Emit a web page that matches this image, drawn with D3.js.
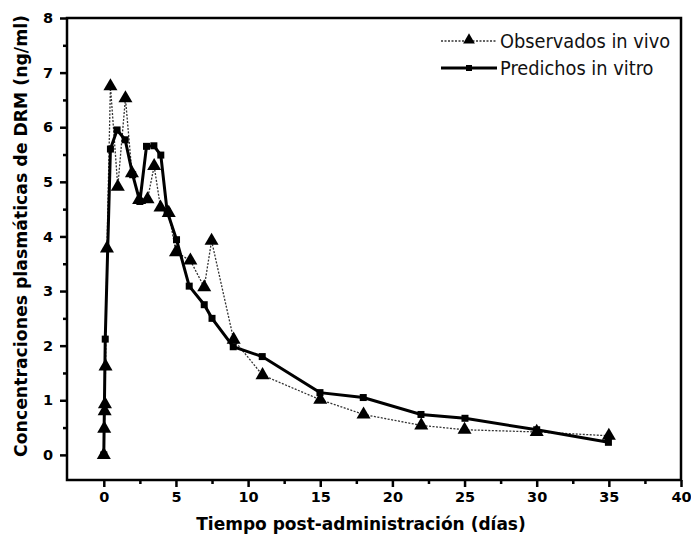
<!DOCTYPE html>
<html><head><meta charset="utf-8">
<script src="https://cdn.jsdelivr.net/npm/d3@7"></script>
<style>body{margin:0;background:#fff}svg{display:block}</style>
</head><body>
<svg id="c" width="691" height="536"></svg>
<script>
const obsDays = [0, 0.03, 0.06, 0.08, 0.12, 0.22, 0.46, 0.97, 1.5, 1.95, 2.45, 3.03, 3.49, 3.93, 4.5, 5.0, 6.0, 6.96, 7.47, 9.0, 11.0, 15.0, 18.0, 22.0, 25.0, 30.0, 35.0];
const obsConc = [0, 0.48, 0.8, 0.93, 1.62, 3.78, 6.75, 4.91, 6.53, 5.16, 4.67, 4.68, 5.29, 4.53, 4.43, 3.71, 3.56, 3.07, 3.92, 2.11, 1.46, 1.01, 0.74, 0.54, 0.46, 0.42, 0.35];
const predDays = [0, 0.1, 0.46, 0.92, 1.48, 2.0, 2.5, 2.96, 3.47, 3.95, 4.39, 5.04, 5.92, 6.96, 7.5, 8.97, 10.98, 14.98, 17.98, 21.98, 25.03, 30.0, 34.97];
const predConc = [0, 2.12, 5.6, 5.95, 5.77, 5.13, 4.64, 5.65, 5.66, 5.49, 4.46, 3.94, 3.09, 2.75, 2.5, 1.98, 1.8, 1.14, 1.05, 0.74, 0.67, 0.46, 0.23];
const xTicks = [0, 5, 10, 15, 20, 25, 30, 35, 40];
const yTicks = [0, 1, 2, 3, 4, 5, 6, 7, 8];
const seriesNames = ["Observados in vivo", "Predichos in vitro"];
const xTitle = "Tiempo post-administración (días)";
const yTitle = "Concentraciones plasmáticas de DRM (ng/ml)";

const svg = d3.select("#c");
const L = 67, R = 681, T = 18, B = 480;
const x = d3.scaleLinear().domain([-2.55, 40]).range([L, R]);
const y = d3.scaleLinear().domain([-0.46, 8]).range([B, T]);
const font = "Tahoma, 'DejaVu Sans', Verdana, sans-serif";

// frame
svg.append("rect").attr("x", L).attr("y", T).attr("width", R - L).attr("height", B - T)
  .attr("fill", "none").attr("stroke", "#000").attr("stroke-width", 2.5);

// x axis
const xMinor = d3.range(2.5, 40, 5);
const xa = svg.append("g").attr("transform", `translate(0,${B})`);
xa.call(d3.axisBottom(x).tickValues(xTicks).tickSize(7).tickPadding(5).tickFormat(d3.format("d")));
const xm = svg.append("g").attr("transform", `translate(0,${B})`);
xm.call(d3.axisBottom(x).tickValues(xMinor).tickSize(4).tickFormat(""));
// y axis
const yMinor = d3.range(0.5, 8, 1);
const ya = svg.append("g").attr("transform", `translate(${L},0)`);
ya.call(d3.axisLeft(y).tickValues(yTicks).tickSize(7).tickPadding(7).tickFormat(d3.format("d")));
const ym = svg.append("g").attr("transform", `translate(${L},0)`);
ym.call(d3.axisLeft(y).tickValues(yMinor).tickSize(4).tickFormat(""));
[xa, xm, ya, ym].forEach(g => {
  g.select(".domain").remove();
  g.selectAll("line").attr("stroke", "#000").attr("stroke-width", 2.5);
  g.selectAll("text").attr("font-family", font).attr("font-weight", "bold").attr("font-size", 14.5).attr("fill", "#000");
});

// series
const obs = obsDays.map((d, i) => [d, obsConc[i]]);
const pred = predDays.map((d, i) => [d, predConc[i]]);
const line = d3.line().x(d => x(d[0])).y(d => y(d[1]));
svg.append("path").datum(obs).attr("d", line).attr("fill", "none")
  .attr("stroke", "#333").attr("stroke-width", 1.3).attr("stroke-dasharray", "2,1.5");
svg.append("path").datum(pred).attr("d", line).attr("fill", "none")
  .attr("stroke", "#000").attr("stroke-width", 3);
const tri = d3.symbol().type(d3.symbolTriangle).size(85);
svg.append("g").selectAll("path").data(obs).join("path")
  .attr("d", tri).attr("transform", d => `translate(${x(d[0])},${y(d[1])})`).attr("fill", "#000");
svg.append("g").selectAll("rect").data(pred).join("rect")
  .attr("x", d => x(d[0]) - 3.5).attr("y", d => y(d[1]) - 3.5).attr("width", 7).attr("height", 7).attr("fill", "#000");

// legend
const lg = svg.append("g");
lg.append("line").attr("x1", 441).attr("x2", 497).attr("y1", 41).attr("y2", 41)
  .attr("stroke", "#333").attr("stroke-width", 1.3).attr("stroke-dasharray", "2,1.5");
lg.append("path").attr("d", d3.symbol().type(d3.symbolTriangle).size(60)).attr("transform", "translate(469,40)");
lg.append("line").attr("x1", 441).attr("x2", 497).attr("y1", 68).attr("y2", 68)
  .attr("stroke", "#000").attr("stroke-width", 3);
lg.append("rect").attr("x", 466).attr("y", 65).attr("width", 6).attr("height", 6);
lg.selectAll("text").data(seriesNames).join("text")
  .attr("x", 500).attr("y", (d, i) => 48 + i * 27).text(d => d)
  .attr("font-family", "'DejaVu Sans Condensed', 'Open Sans', sans-serif").attr("font-size", 19.8).attr("fill", "#111");

// titles
svg.append("text").attr("x", 361).attr("y", 530).attr("text-anchor", "middle").text(xTitle)
  .attr("font-family", font).attr("font-weight", "bold").attr("font-size", 17);
svg.append("text").attr("transform", "translate(27,236) rotate(-90)").attr("text-anchor", "middle").text(yTitle)
  .attr("font-family", font).attr("font-weight", "bold").attr("font-size", 17.3);
</script>
</body></html>
